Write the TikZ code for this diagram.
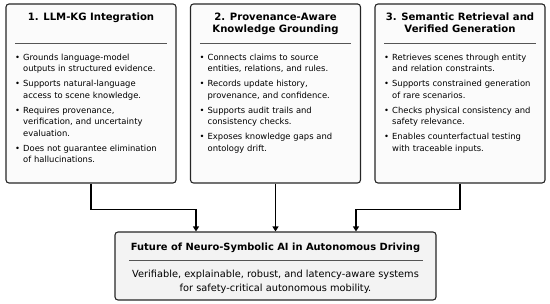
\documentclass[tikz,border=0pt]{standalone}
\usepackage{fontspec}
\setmainfont{DejaVu Sans}
\usepackage{enumitem}
\usetikzlibrary{arrows.meta,positioning,calc}
\definecolor{PanelEdge}{HTML}{262626}
\definecolor{PanelFill}{HTML}{FBFBFB}
\definecolor{FutureFill}{HTML}{F3F3F3}
\definecolor{RuleGray}{HTML}{555555}
\newcommand{\claimlist}[1]{\begin{itemize}[label=\textbullet,leftmargin=8.5pt,labelsep=3pt,itemsep=3.6pt,parsep=0pt,topsep=0pt,partopsep=0pt]#1\end{itemize}}

\begin{document}
\begin{tikzpicture}[x=1pt,y=1pt,
    panel/.style={rounded corners=3pt,draw=PanelEdge,fill=PanelFill,line width=1.1pt,minimum width=170pt,minimum height=179pt,inner sep=0pt},
    head/.style={font=\fontsize{10.1}{12.6}\selectfont\bfseries,align=center,anchor=north,inner sep=0pt},
    body/.style={font=\fontsize{8.4}{11.4}\selectfont,text width=160pt,anchor=north west,inner sep=0pt},
    sep/.style={RuleGray,line width=0.8pt},
    arr/.style={-{Triangle[length=5pt,width=6pt]},line width=1.2pt}
  ]
    \useasboundingbox (0,0) rectangle (550,304);
    \node[panel] (k1) at (91,210.5) {};
    \node[panel] (k2) at (275.5,210.5) {};
    \node[panel] (k3) at (460,210.5) {};
    \node[panel,fill=FutureFill,minimum width=321pt,minimum height=68pt] (fut) at (275.5,38) {};
    \node[head] (t1) at ([yshift=-9pt]k1.north) {1. LLM-KG Integration};
    \node[head] (t2) at ([yshift=-9pt]k2.north) {2. Provenance-Aware\\Knowledge Grounding};
    \node[head] (t3) at ([yshift=-9pt]k3.north) {3. Semantic Retrieval and\\Verified Generation};
    \foreach \k in {k1,k2,k3}
      \draw[sep] ([xshift=10pt,yshift=-40pt]\k.north west) -- ([xshift=-10pt,yshift=-40pt]\k.north east);
    \node[body] (b1) at ([xshift=9pt,yshift=-45.5pt]k1.north west) {\claimlist{
      \item Grounds language-model\newline outputs in structured evidence.
      \item Supports natural-language\newline access to scene knowledge.
      \item Requires provenance,\newline verification, and uncertainty\newline evaluation.
      \item Does not guarantee elimination\newline of hallucinations.}};
    \node[body] (b2) at ([xshift=9pt,yshift=-45.5pt]k2.north west) {\claimlist{
      \item Connects claims to source\newline entities, relations, and rules.
      \item Records update history,\newline provenance, and confidence.
      \item Supports audit trails and\newline consistency checks.
      \item Exposes knowledge gaps and\newline ontology drift.}};
    \node[body] (b3) at ([xshift=9pt,yshift=-45.5pt]k3.north west) {\claimlist{
      \item Retrieves scenes through entity\newline and relation constraints.
      \item Supports constrained generation\newline of rare scenarios.
      \item Checks physical consistency and\newline safety relevance.
      \item Enables counterfactual testing\newline with traceable inputs.}};
    \node[head,font=\fontsize{9.9}{12}\selectfont\bfseries] (ft) at ([yshift=-11.5pt]fut.north) {Future of Neuro-Symbolic AI in Autonomous Driving};
    \draw[sep] ([xshift=15pt,yshift=-29pt]fut.north west) -- ([xshift=-14pt,yshift=-29pt]fut.north east);
    \node[head,font=\fontsize{9.8}{14}\selectfont] (fb) at ([yshift=-38.5pt]fut.north) {Verifiable, explainable, robust, and latency-aware systems\\for safety-critical autonomous mobility.};
    \draw[arr] (k1.south) -- ++(0,-26) -| ([xshift=-79.5pt]fut.north);
    \draw[arr] (k2.south) -- (fut.north);
    \draw[arr] (k3.south) -- ++(0,-26) -| ([xshift=80.5pt]fut.north);
  \end{tikzpicture}
\end{document}
